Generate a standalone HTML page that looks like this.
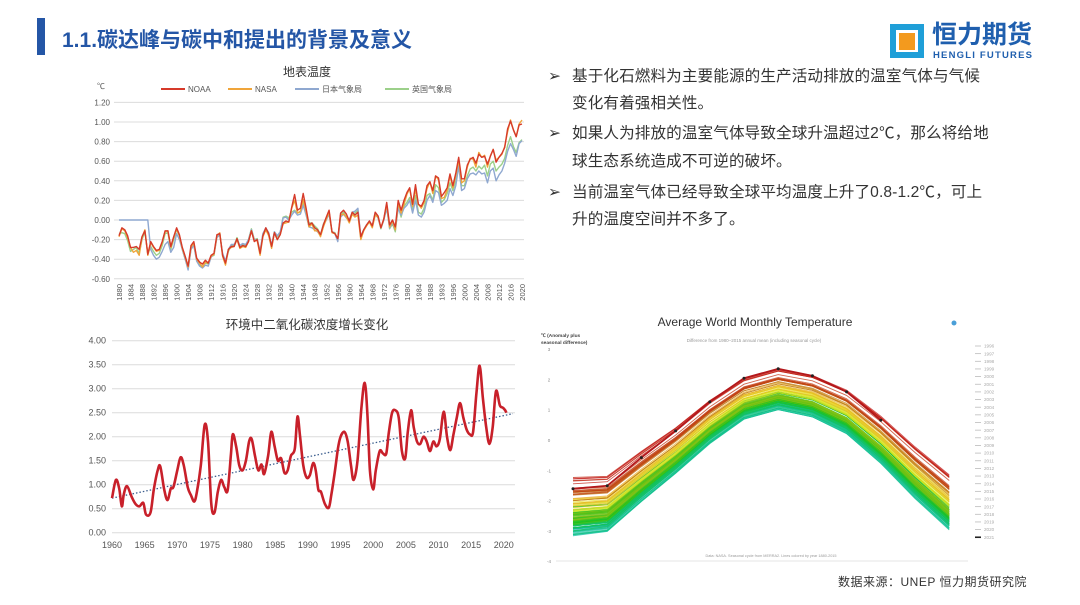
<!DOCTYPE html>
<html><head><meta charset="utf-8">
<style>
body{margin:0;background:#fff;}
#slide{position:relative;width:1080px;height:605px;overflow:hidden;background:#fff;font-family:"Liberation Sans","Noto Sans CJK SC",sans-serif;}
.bl{position:absolute;left:548px;font-size:15.6px;color:#333;white-space:nowrap;line-height:18px;}
.bt{position:absolute;left:572px;font-size:15.6px;color:#333;white-space:nowrap;line-height:18px;letter-spacing:0.1px;}
svg text{font-family:"Liberation Sans","Noto Sans CJK SC",sans-serif;}
</style></head><body>
<div id="slide">
<div style="position:absolute;left:37px;top:18px;width:8px;height:37px;background:#2456a6;"></div>
<div style="position:absolute;left:62px;top:24px;font-size:21px;font-weight:bold;color:#2456a6;white-space:nowrap;">1.1.碳达峰与碳中和提出的背景及意义</div>
<div style="position:absolute;left:888px;top:22px;width:170px;height:42px;">
  <div style="position:absolute;left:2px;top:2px;width:34px;height:34px;background:#1f9fd8;"></div>
  <div style="position:absolute;left:8px;top:8px;width:22px;height:22px;background:#fff;"></div>
  <div style="position:absolute;left:11px;top:11px;width:16px;height:17px;background:#f39a1e;"></div>
  <div style="position:absolute;left:44px;top:0px;font-size:25px;line-height:27px;font-weight:bold;color:#1f5fae;white-space:nowrap;">恒力期货</div>
  <div style="position:absolute;left:45px;top:29px;font-size:9.5px;line-height:10px;font-weight:bold;color:#1f5fae;white-space:nowrap;letter-spacing:1.2px;">HENGLI FUTURES</div>
</div>

<div class="bl" style="top:68px">➢</div>
<div class="bt" style="top:68px">基于化石燃料为主要能源的生产活动排放的温室气体与气候</div>
<div class="bt" style="top:95px">变化有着强相关性。</div>
<div class="bl" style="top:125px">➢</div>
<div class="bt" style="top:125px">如果人为排放的温室气体导致全球升温超过2℃，那么将给地</div>
<div class="bt" style="top:153px">球生态系统造成不可逆的破坏。</div>
<div class="bl" style="top:184px">➢</div>
<div class="bt" style="top:184px">当前温室气体已经导致全球平均温度上升了0.8-1.2℃，可上</div>
<div class="bt" style="top:211px">升的温度空间并不多了。</div>

<div style="position:absolute;left:838px;top:573px;font-size:12px;color:#333;white-space:nowrap;letter-spacing:0.5px;">数据来源：UNEP 恒力期货研究院</div>

<svg id="chart" width="1080" height="605" style="position:absolute;left:0;top:0;"></svg>
</div>
<script>
// ---- Chart 1: surface temperature ----
const tempStart = 1880;
const tempTicks = [1.2,1.0,0.8,0.6,0.4,0.2,0,-0.2,-0.4,-0.6];
const tempTickLabels = ["1.20","1.00","0.80","0.60","0.40","0.20","0.00","-0.20","-0.40","-0.60"];
const noaa = [-0.16,-0.08,-0.10,-0.16,-0.28,-0.28,-0.27,-0.30,-0.17,-0.11,
-0.35,-0.22,-0.27,-0.31,-0.30,-0.22,-0.11,-0.11,-0.27,-0.17,
-0.08,-0.15,-0.28,-0.37,-0.47,-0.26,-0.22,-0.39,-0.43,-0.45,
-0.41,-0.44,-0.36,-0.34,-0.15,-0.14,-0.36,-0.44,-0.30,-0.27,
-0.27,-0.19,-0.28,-0.26,-0.27,-0.22,-0.11,-0.22,-0.20,-0.34,
-0.16,-0.08,-0.14,-0.27,-0.13,-0.20,-0.15,-0.03,-0.01,-0.02,
0.13,0.26,0.10,0.12,0.27,0.12,-0.05,-0.03,-0.08,-0.10,
-0.15,-0.05,0.03,0.10,-0.12,-0.14,-0.19,0.07,0.10,0.06,
-0.01,0.08,0.05,0.08,-0.17,-0.10,-0.05,-0.01,-0.06,0.08,
0.04,-0.08,0.01,0.18,-0.05,0.00,-0.07,0.20,0.10,0.20,
0.28,0.33,0.16,0.36,0.16,0.14,0.20,0.35,0.39,0.30,
0.45,0.43,0.24,0.28,0.33,0.47,0.35,0.48,0.64,0.42,
0.42,0.56,0.62,0.64,0.58,0.67,0.64,0.65,0.57,0.65,
0.72,0.59,0.64,0.68,0.74,0.93,1.01,0.92,0.85,0.97,0.98];
const nasa = [-0.17,-0.09,-0.11,-0.18,-0.28,-0.33,-0.31,-0.36,-0.18,-0.10,
-0.36,-0.23,-0.28,-0.32,-0.31,-0.23,-0.12,-0.11,-0.28,-0.18,
-0.09,-0.16,-0.29,-0.38,-0.48,-0.28,-0.23,-0.40,-0.44,-0.48,
-0.43,-0.44,-0.37,-0.35,-0.16,-0.13,-0.37,-0.46,-0.30,-0.28,
-0.27,-0.20,-0.29,-0.27,-0.28,-0.22,-0.11,-0.21,-0.21,-0.36,
-0.17,-0.10,-0.16,-0.29,-0.13,-0.20,-0.15,-0.04,-0.03,-0.02,
0.12,0.20,0.07,0.09,0.21,0.09,-0.07,-0.04,-0.11,-0.11,
-0.17,-0.07,0.01,0.08,-0.13,-0.14,-0.19,0.05,0.06,0.03,
-0.03,0.06,0.03,0.05,-0.20,-0.11,-0.06,-0.02,-0.08,0.05,
0.03,-0.08,0.01,0.16,-0.07,-0.01,-0.10,0.18,0.07,0.16,
0.26,0.32,0.14,0.31,0.16,0.12,0.18,0.32,0.39,0.27,
0.45,0.41,0.22,0.23,0.31,0.45,0.33,0.46,0.61,0.38,
0.40,0.54,0.63,0.62,0.54,0.69,0.64,0.66,0.54,0.65,
0.72,0.61,0.64,0.67,0.75,0.90,1.02,0.92,0.85,0.98,1.02];
const japan = [0,0,0,0,0,0,0,0,0,0,0,
-0.30,-0.36,-0.40,-0.38,-0.32,-0.25,-0.22,-0.33,-0.28,
-0.14,-0.20,-0.30,-0.40,-0.51,-0.30,-0.26,-0.42,-0.47,-0.49,
-0.46,-0.47,-0.38,-0.35,-0.18,-0.15,-0.34,-0.42,-0.30,-0.25,
-0.25,-0.20,-0.26,-0.24,-0.25,-0.20,-0.10,-0.20,-0.20,-0.32,
-0.14,-0.08,-0.13,-0.26,-0.12,-0.16,-0.12,0.02,0.03,0.00,
0.05,0.09,0.05,0.06,0.15,0.05,-0.07,-0.08,-0.10,-0.12,
-0.16,-0.05,0.00,0.06,-0.12,-0.14,-0.22,0.03,0.06,0.02,
0.00,0.08,0.09,0.12,-0.17,-0.10,-0.05,-0.01,-0.06,0.06,
0.02,-0.08,0.00,0.12,-0.08,-0.03,-0.10,0.12,0.05,0.12,
0.15,0.20,0.07,0.20,0.05,0.03,0.08,0.20,0.25,0.18,
0.30,0.28,0.15,0.17,0.20,0.32,0.25,0.35,0.55,0.30,
0.32,0.42,0.47,0.48,0.46,0.50,0.47,0.48,0.38,0.50,
0.53,0.40,0.46,0.50,0.58,0.70,0.78,0.72,0.65,0.78,0.81];
const ukmo = [-0.14,-0.13,-0.14,-0.21,-0.32,-0.30,-0.28,-0.34,-0.20,-0.12,
-0.35,-0.27,-0.32,-0.36,-0.34,-0.26,-0.14,-0.13,-0.30,-0.20,
-0.10,-0.16,-0.30,-0.40,-0.49,-0.30,-0.25,-0.41,-0.46,-0.47,
-0.44,-0.45,-0.37,-0.36,-0.17,-0.14,-0.35,-0.44,-0.32,-0.26,
-0.26,-0.18,-0.27,-0.25,-0.26,-0.20,-0.09,-0.20,-0.19,-0.33,
-0.14,-0.09,-0.14,-0.28,-0.12,-0.17,-0.13,0.03,0.04,0.02,
0.08,0.10,0.07,0.08,0.18,0.07,-0.03,-0.03,-0.06,-0.09,
-0.15,-0.04,0.02,0.08,-0.12,-0.13,-0.20,0.05,0.08,0.03,
0.00,0.07,0.07,0.10,-0.19,-0.10,-0.05,-0.02,-0.06,0.06,
0.02,-0.09,0.00,0.14,-0.09,-0.04,-0.12,0.14,0.03,0.14,
0.18,0.23,0.10,0.25,0.08,0.06,0.12,0.25,0.27,0.20,
0.36,0.33,0.18,0.21,0.27,0.38,0.30,0.40,0.60,0.35,
0.35,0.45,0.52,0.54,0.50,0.55,0.52,0.56,0.45,0.57,
0.60,0.50,0.54,0.57,0.63,0.76,0.85,0.75,0.69,0.79,0.82];
const tempSeries = [noaa, nasa, japan, ukmo];
const tempNames = ["NOAA","NASA","日本气象局","英国气象局"];
const tempColors = ["#d63a2a","#f0a53a","#8fa8d0","#9cd08a"];

// ---- Chart 2: CO2 growth ----
const co2Years = [1960.0,1960.6,1961.1,1961.5,1961.8,1962.3,1963.0,1963.6,1964.2,1964.8,1965.2,1965.9,1966.4,1967.0,1967.4,1968.0,1968.5,1969.0,1969.4,1970.0,1970.5,1971.0,1971.6,1972.1,1972.6,1973.0,1973.6,1974.2,1974.7,1975.2,1975.7,1976.2,1976.7,1977.2,1977.7,1978.2,1978.5,1979.0,1979.5,1980.0,1980.5,1981.0,1981.4,1981.9,1982.4,1982.9,1983.3,1983.9,1984.4,1984.9,1985.4,1985.9,1986.4,1986.9,1987.4,1988.0,1988.4,1988.8,1989.3,1989.8,1990.3,1990.8,1991.2,1991.6,1992.0,1992.6,1993.2,1993.6,1994.1,1994.6,1995.0,1995.6,1996.1,1996.6,1997.0,1997.6,1998.2,1998.7,1999.1,1999.5,2000.0,2000.4,2001.0,2001.5,2002.0,2002.4,2002.9,2003.4,2003.9,2004.4,2004.9,2005.3,2005.8,2006.2,2006.7,2007.2,2007.7,2008.2,2008.7,2009.2,2009.7,2010.2,2010.8,2011.3,2011.8,2012.3,2012.8,2013.3,2013.8,2014.3,2014.8,2015.3,2015.8,2016.3,2016.8,2017.3,2017.8,2018.3,2018.8,2019.4,2019.9,2020.4,2020.9,2021.4];
const co2Values = [0.72,1.10,0.92,0.55,0.80,0.97,0.75,0.60,0.55,0.62,0.38,0.42,0.90,1.30,1.38,0.90,0.68,0.92,0.95,1.30,1.57,1.40,0.95,0.78,0.65,0.85,1.40,2.25,1.90,0.60,0.42,0.85,1.10,0.95,0.88,1.60,2.05,1.80,1.40,1.30,1.50,1.90,1.95,1.60,1.30,1.42,1.22,1.60,2.10,1.80,1.50,1.55,1.25,1.30,1.60,1.75,2.42,2.00,1.40,1.15,1.20,1.45,1.30,0.90,0.85,0.60,0.52,0.80,1.25,1.75,2.00,2.10,1.90,1.40,1.10,1.50,2.60,3.12,2.50,1.30,0.90,1.30,1.70,1.65,1.65,2.10,2.50,2.55,2.40,1.70,1.55,2.10,2.55,2.20,1.90,1.85,2.00,1.90,1.70,1.90,1.80,1.95,2.52,2.00,1.72,2.05,2.40,2.70,2.40,2.15,2.05,2.10,2.90,3.48,2.80,2.20,1.85,2.20,2.95,2.65,2.60,2.50,2.20];
const co2Trend = [[1960,0.72],[2021.4,2.48]];
const co2Ticks = [0,0.5,1,1.5,2,2.5,3,3.5,4];
const co2TickLabels = ["0.00","0.50","1.00","1.50","2.00","2.50","3.00","3.50","4.00"];
const co2XTicks = [1960,1965,1970,1975,1980,1985,1990,1995,2000,2005,2010,2015,2020];

// ---- Chart 3: monthly temperature ----
const monthBase = [-2.55,-2.45,-1.52,-0.64,0.32,1.10,1.41,1.18,0.65,-0.29,-1.40,-2.40];
const monthSpread = [1.3,1.25,1.15,1.05,1.0,0.95,0.95,0.97,1.02,1.1,1.2,1.28];
const y2021 = [-1.61,-1.51,-0.58,0.30,1.26,2.04,2.35,2.12,1.59,0.65];
const monthTicks = [3,2,1,0,-1,-2,-3,-4];
const legendYears = ["1996","1997","1998","1999","2000","2001","2002","2003","2004","2005","2006","2007","2008","2009","2010","2011","2012","2013","2014","2015","2016","2017","2018","2019","2020","2021"];

const NS = "http://www.w3.org/2000/svg";
const svg = document.getElementById('chart');
function mk(tag, attrs, parent){const e=document.createElementNS(NS,tag);for(const k in attrs)e.setAttribute(k,attrs[k]);(parent||svg).appendChild(e);return e;}
function txt(s, attrs, parent){const e=mk('text',attrs,parent);e.textContent=s;return e;}

// Chart 1 axes
const x1 = yr => 119 + (yr - tempStart) * (522 - 119) / 140;
const y1 = v => 220 - v * 98;
const g1 = mk('g',{});


let t = txt('地表温度',{x:307,y:76,'font-size':12,'text-anchor':'middle',fill:'#333'},g1);


t = txt('℃',{x:97,y:89,'font-size':8,fill:'#555'},g1);


tempTicks.forEach((v,i)=>{
  const l=mk('line',{x1:114,x2:524,y1:y1(v),y2:y1(v),stroke:'#dcdcdc','stroke-width':1},g1);
  
  
  const tt=txt(tempTickLabels[i],{x:110,y:y1(v)+3,'font-size':8,'text-anchor':'end',fill:'#555'},g1);
  
  
});
for(let yr=1880; yr<=2020; yr+=4){
  const tt=txt(String(yr===1992?1993:yr),{x:0,y:0,'font-size':7.5,'text-anchor':'end',fill:'#555',transform:`translate(${x1(yr)+3},${284}) rotate(-90)`},g1);
  
  
}
const legX = [161,228,295,385];
tempNames.forEach((n,i)=>{
  const l=mk('line',{x1:legX[i],x2:legX[i]+24,y1:89,y2:89,stroke:tempColors[i],'stroke-width':2},g1);
  
  
  const tt=txt(n,{x:legX[i]+27,y:92,'font-size':8,fill:'#555'},g1);
  
  
});
[3,2,1,0].forEach(i=>{
  const pts = tempSeries[i].map((v,k)=>x1(tempStart+k).toFixed(1)+','+y1(v).toFixed(1)).join(' ');
  const p=mk('polyline',{points:pts,fill:'none',stroke:tempColors[i],'stroke-width':1.4,'stroke-linejoin':'round'},g1);
  
  
});

// Chart 2
const x2 = yr => 112 + (yr - 1960) * 6.53;
const y2 = v => 532.7 - v * 48;
const g2 = mk('g',{});


t = txt('环境中二氧化碳浓度增长变化',{x:307,y:329,'font-size':12.5,'text-anchor':'middle',fill:'#333'},g2);


co2Ticks.forEach((v,i)=>{
  const l=mk('line',{x1:112,x2:515,y1:y2(v),y2:y2(v),stroke:'#dcdcdc','stroke-width':1},g2);
  
  
  const tt=txt(co2TickLabels[i],{x:106,y:y2(v)+3,'font-size':9,'text-anchor':'end',fill:'#555'},g2);
  
  
});
co2XTicks.forEach(yr=>{
  const tt=txt(String(yr),{x:x2(yr),y:548,'font-size':9,'text-anchor':'middle',fill:'#555'},g2);
  
  
});
let tr=mk('line',{x1:x2(co2Trend[0][0]),y1:y2(co2Trend[0][1]),x2:x2(co2Trend[1][0]),y2:y2(co2Trend[1][1]),stroke:'#3d5f8f','stroke-width':1.3,'stroke-dasharray':'1.5,2'},g2);


function smooth(pts){let d=`M${pts[0][0]},${pts[0][1]}`;for(let i=0;i<pts.length-1;i++){const p0=pts[Math.max(0,i-1)],p1=pts[i],p2=pts[i+1],p3=pts[Math.min(pts.length-1,i+2)];const c1x=p1[0]+(p2[0]-p0[0])/6,c1y=p1[1]+(p2[1]-p0[1])/6,c2x=p2[0]-(p3[0]-p1[0])/6,c2y=p2[1]-(p3[1]-p1[1])/6;d+=` C${c1x.toFixed(1)},${c1y.toFixed(1)} ${c2x.toFixed(1)},${c2y.toFixed(1)} ${p2[0].toFixed(1)},${p2[1].toFixed(1)}`;}return d;}
const co2Pts = co2Years.map((yr,i)=>[x2(yr),y2(co2Values[i])]);
let cp=mk('path',{d:smooth(co2Pts),fill:'none',stroke:'#c8202a','stroke-width':2.6,'stroke-linejoin':'round'},g2);



// Chart 3
const x3 = m => 573 + m * 34.2;
const y3 = v => 440 - v * 30.3;
const g3 = mk('g',{});


t=txt('Average World Monthly Temperature',{x:755,y:326,'font-size':12,'text-anchor':'middle',fill:'#333'},g3);


t=txt('Difference from 1980–2015 annual mean (including seasonal cycle)',{x:754,y:342,'font-size':4.5,'text-anchor':'middle',fill:'#999'},g3);


t=txt('℃ (Anomaly plus',{x:541,y:337,'font-size':4.8,'font-weight':'bold',fill:'#444'},g3);


t=txt('seasonal difference)',{x:541,y:344,'font-size':4.8,'font-weight':'bold',fill:'#444'},g3);


let ic=mk('circle',{cx:954,cy:323,r:2.5,fill:'#4a9fd8'},g3);


monthTicks.forEach(v=>{
  const tt=txt(String(v),{x:549,y:y3(v)+2,'font-size':4.5,'text-anchor':'middle',fill:'#888'},g3);
  
  
});
let bl=mk('line',{x1:556,x2:968,y1:561,y2:561,stroke:'#e4e4e4','stroke-width':1},g3);


t=txt('Data: NASA. Seasonal cycle from MERRA2. Lines colored by year 1880-2015',{x:771,y:557,'font-size':3.8,'text-anchor':'middle',fill:'#999'},g3);


const nY = noaa.length;
for(let i=0;i<nY;i++){
  const f = i/(nY-1);
  const hue = f<0.55 ? 198 - 85*(f/0.55) : 113 - 113*((f-0.55)/0.45);
  const light = (hue>40&&hue<70) ? 52 : 42;
  const pts = monthBase.map((b,m)=>{
    const w = m/11;
    const a = noaa[i]*(1-w) + noaa[Math.min(nY-1,i+1)]*w*0.6 + noaa[Math.max(0,i-1)]*w*0.4;
    return x3(m).toFixed(1)+','+y3(b + a*monthSpread[m]).toFixed(1);
  }).join(' ');
  const p=mk('polyline',{points:pts,fill:'none',stroke:`hsl(${hue},80%,${light}%)`,'stroke-width':0.9,'stroke-opacity':0.75},g3);
  
  
}
const p21pts = y2021.map((v,m)=>x3(m).toFixed(1)+','+y3(v).toFixed(1)).join(' ');
let p21=mk('polyline',{points:p21pts,fill:'none',stroke:'#b3181c','stroke-width':1.8},g3);


y2021.forEach((v,m)=>{
  const c=mk('circle',{cx:x3(m),cy:y3(v),r:1.5,fill:'#222'},g3);
  
  
});
legendYears.forEach((yr,i)=>{
  const yy = 346 + i*7.65;
  const last = i===legendYears.length-1;
  const l=mk('line',{x1:975,x2:981,y1:yy,y2:yy,stroke:last?'#222':'#bbb','stroke-width':last?1.6:0.8},g3);
  
  
  const tt=txt(yr,{x:984,y:yy+1.6,'font-size':4.6,fill:'#aaa'},g3);
  
  
});
</script>
</body></html>
